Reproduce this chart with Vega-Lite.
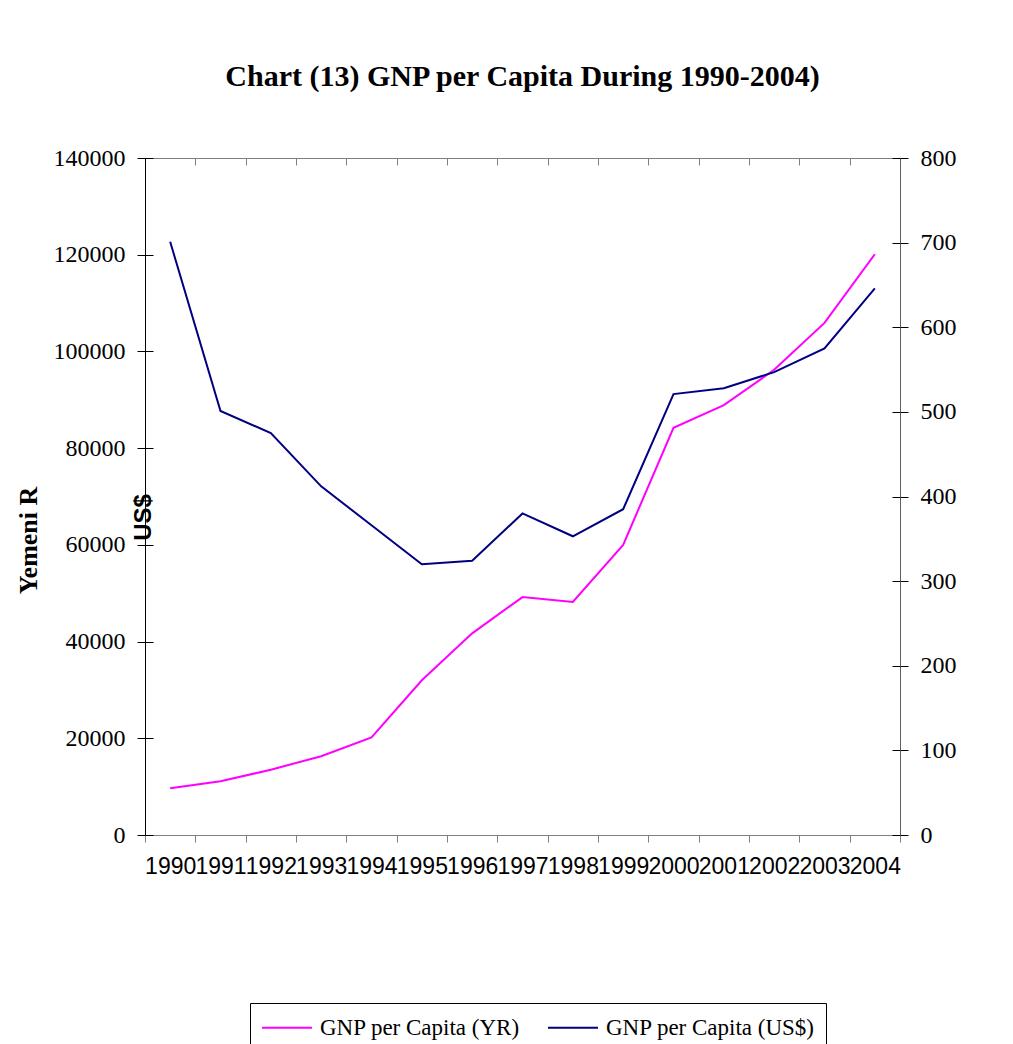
{
  "$schema": "https://vega.github.io/schema/vega-lite/v6.json",
  "autosize": {"type": "none"},
  "padding": {"left": 145, "top": 158, "right": 113, "bottom": 209},
  "width": 755,
  "height": 677,
  "background": "white",
  "title": {
    "text": "Chart (13) GNP per Capita During 1990-2004)",
    "font": "Liberation Serif",
    "fontSize": 30,
    "fontWeight": "bold",
    "color": "black",
    "anchor": "middle",
    "offset": 54
  },
  "config": {
    "view": {"stroke": "#808080", "strokeWidth": 1}
  },
  "data": {
    "values": [
      {"year": "1990", "yr": 9650, "usd": 701},
      {"year": "1991", "yr": 11100, "usd": 501},
      {"year": "1992", "yr": 13500, "usd": 475},
      {"year": "1993", "yr": 16300, "usd": 412},
      {"year": "1994", "yr": 20200, "usd": 366},
      {"year": "1995", "yr": 32000, "usd": 320},
      {"year": "1996", "yr": 41700, "usd": 324},
      {"year": "1997", "yr": 49200, "usd": 380},
      {"year": "1998", "yr": 48200, "usd": 353},
      {"year": "1999", "yr": 60000, "usd": 385},
      {"year": "2000", "yr": 84200, "usd": 521},
      {"year": "2001", "yr": 88900, "usd": 528},
      {"year": "2002", "yr": 96200, "usd": 547},
      {"year": "2003", "yr": 105900, "usd": 575},
      {"year": "2004", "yr": 120100, "usd": 646}
    ]
  },
  "layer": [
    {
      "mark": {"type": "line", "strokeWidth": 2},
      "encoding": {
        "x": {
          "field": "year",
          "type": "ordinal",
          "scale": {"type": "band", "paddingInner": 0, "paddingOuter": 0},
          "axis": {
            "title": null,
            "labelAngle": 0,
            "labelFont": "Liberation Sans",
            "labelFontSize": 23,
            "labelColor": "black",
            "labelOverlap": false,
            "labelPadding": 13,
            "tickBand": "extent",
            "tickSize": 7,
            "tickColor": "#808080",
            "domainColor": "#808080",
            "grid": false
          }
        },
        "y": {
          "field": "yr",
          "type": "quantitative",
          "scale": {"domain": [0, 140000], "nice": false},
          "axis": {
            "orient": "left",
            "title": "Yemeni R",
            "titleFont": "Liberation Serif",
            "titleFontSize": 26,
            "titleFontWeight": "bold",
            "titleColor": "black",
            "titleAngle": -90,
            "titleX": -117,
            "titleY": 382,
            "titleAlign": "center",
            "titleBaseline": "middle",
            "values": [0, 20000, 40000, 60000, 80000, 100000, 120000, 140000],
            "format": "d",
            "labelFont": "Liberation Serif",
            "labelFontSize": 24,
            "labelColor": "black",
            "labelPadding": 12,
            "tickSize": 8,
            "tickColor": "black",
            "domainColor": "black",
            "grid": false
          }
        },
        "color": {
          "datum": "GNP per Capita (YR)",
          "type": "nominal",
          "scale": {
            "domain": ["GNP per Capita (YR)", "GNP per Capita (US$)"],
            "range": ["#FF00FF", "#000080"]
          },
          "legend": {
            "title": null,
            "orient": "none",
            "direction": "horizontal",
            "legendX": 105,
            "legendY": 845,
            "strokeColor": "black",
            "padding": 11,
            "symbolType": "M-1,0H3",
            "symbolSize": 625,
            "symbolStrokeWidth": 2,
            "labelFont": "Liberation Serif",
            "labelFontSize": 23,
            "labelColor": "black",
            "labelLimit": 400,
            "columnPadding": 24,
            "labelOffset": 32
          }
        }
      }
    },
    {
      "mark": {"type": "line", "strokeWidth": 2},
      "encoding": {
        "x": {"field": "year", "type": "ordinal", "axis": null},
        "y": {
          "field": "usd",
          "type": "quantitative",
          "scale": {"domain": [0, 800], "nice": false},
          "axis": {
            "orient": "right",
            "title": "US$",
            "titleFont": "Liberation Sans",
            "titleFontSize": 24,
            "titleFontWeight": "bold",
            "titleColor": "black",
            "titleAngle": -90,
            "titleX": -757,
            "titleY": 359,
            "titleAlign": "center",
            "titleBaseline": "middle",
            "values": [0, 100, 200, 300, 400, 500, 600, 700, 800],
            "format": "d",
            "labelFont": "Liberation Serif",
            "labelFontSize": 24,
            "labelColor": "black",
            "labelPadding": 12,
            "tickSize": 8,
            "tickColor": "black",
            "domainColor": "#606060",
            "grid": false
          }
        },
        "color": {"datum": "GNP per Capita (US$)", "type": "nominal"}
      }
    },
    {
      "mark": {"type": "line", "strokeOpacity": 0},
      "encoding": {
        "x": {
          "field": "year",
          "type": "ordinal",
          "axis": {
            "title": null,
            "labels": false,
            "domain": false,
            "tickBand": "extent",
            "tickSize": -7,
            "tickColor": "#808080",
            "grid": false
          }
        },
        "y": {
          "field": "yr",
          "type": "quantitative",
          "scale": {"domain": [0, 140000], "nice": false},
          "axis": {
            "orient": "left",
            "title": null,
            "labels": false,
            "domain": false,
            "values": [0, 20000, 40000, 60000, 80000, 100000, 120000, 140000],
            "tickSize": -8,
            "tickColor": "black",
            "grid": false
          }
        }
      }
    },
    {
      "mark": {"type": "line", "strokeOpacity": 0},
      "encoding": {
        "x": {"field": "year", "type": "ordinal", "axis": null},
        "y": {
          "field": "usd",
          "type": "quantitative",
          "scale": {"domain": [0, 800], "nice": false},
          "axis": {
            "orient": "right",
            "title": null,
            "labels": false,
            "domain": false,
            "values": [0, 100, 200, 300, 400, 500, 600, 700, 800],
            "tickSize": -8,
            "tickColor": "black",
            "grid": false
          }
        }
      }
    }
  ],
  "resolve": {"scale": {"y": "independent"}, "axis": {"x": "independent", "y": "independent"}}
}
